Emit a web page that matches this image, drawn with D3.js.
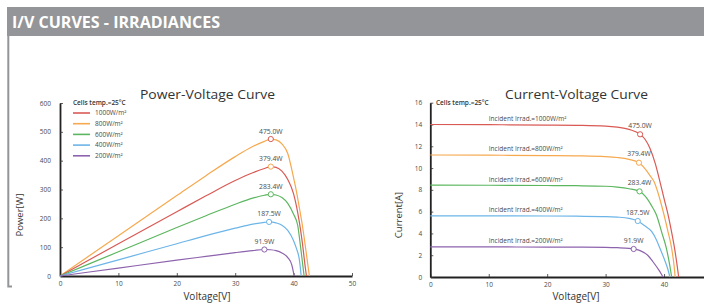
<!DOCTYPE html>
<html><head><meta charset="utf-8">
<script src="https://cdn.jsdelivr.net/npm/d3@7"></script>
<style>
html,body{margin:0;padding:0;background:#fff;}
svg{display:block;font-family:"Open Sans","Lato",sans-serif;}
</style></head>
<body>
<svg id="c" width="704" height="303"></svg>
<script>
// ---------- DATA ----------
const irradiances = ["1000W/m²","800W/m²","600W/m²","400W/m²","200W/m²"];
const seriesColors = ["#d95a55","#f6a94e","#5cb65f","#6db5e8","#8d63ad"];
// power chart draws the 1000 & 800 lines with swapped colours (as in original)
const powerLineColors = ["#f6a94e","#d95a55","#5cb65f","#6db5e8","#8d63ad"];
const mppLabels = ["475.0W","379.4W","283.4W","187.5W","91.9W"];
const powerTicksY = [0,100,200,300,400,500,600];
const currentTicksY = [0,2,4,6,8,10,12,14,16];
const voltageTicks = [0,10,20,30,40,50];

// Power-Voltage curves [V, P]
const pv1000 = [[0,0],[10,140],[20,279],[25,348],[30,414],[33,449],[35,467],[36.1,475],[37,472],[38,458],[39,425],[40,340],[40.5,292],[41,235],[41.5,176],[42,105],[42.5,30],[42.7,0]];
const pv800  = [[0,0],[10,112],[20,223],[25,278],[30,331],[33,358],[35,373],[36.1,379.4],[37,377],[38,364],[39,335],[40,285],[41,185],[41.5,115],[42,30],[42.2,0]];
const pv600  = [[0,0],[10,84],[20,168],[25,209],[30,249],[33,270],[35,280],[36.1,283.4],[37,281],[38,272],[39,252],[40,214],[40.7,176],[41.2,100],[41.5,50],[41.8,0]];
const pv400  = [[0,0],[10,56],[20,112],[25,140],[30,166],[33,180],[35,186],[35.8,187.5],[37,184],[38,176],[39,158],[40,122],[40.5,95],[41,55],[41.3,0]];
const pv200  = [[0,0],[10,27.5],[20,55],[25,68],[30,81],[33,88],[35,91.9],[36,91],[37,88],[38,80],[39,64],[39.7,38],[40.1,0]];
const pvMpp  = [[36.1,475.0],[36.1,379.4],[36.1,283.4],[35.8,187.5],[35.0,91.9]];

// Current-Voltage curves [V, I]
const iv1000 = [[0,14.0],[10,13.98],[20,13.95],[25,13.92],[30,13.85],[32,13.75],[34,13.55],[35.9,13.1],[36.8,12.6],[37.6,11.8],[38.5,10.4],[39.3,8.74],[40.0,7.2],[40.7,5.69],[41.3,4.1],[41.8,2.63],[42.2,1.2],[42.5,0]];
const iv800  = [[0,11.2],[10,11.18],[20,11.15],[25,11.12],[30,11.05],[32,10.97],[34,10.8],[35.7,10.49],[36.8,9.9],[37.6,9.3],[38.3,8.74],[39.2,7.3],[40.0,5.69],[40.7,4.1],[41.3,2.63],[41.7,1.1],[41.9,0]];
const iv600  = [[0,8.44],[10,8.42],[20,8.4],[25,8.38],[30,8.33],[32,8.25],[34,8.1],[35.8,7.86],[36.8,7.4],[37.8,6.6],[38.7,5.69],[39.6,4.1],[40.4,2.63],[40.9,1.3],[41.3,0]];
const iv400  = [[0,5.62],[10,5.61],[20,5.6],[25,5.58],[30,5.55],[32,5.5],[34,5.38],[35.5,5.14],[36.7,4.7],[37.9,4.16],[38.7,3.4],[39.3,2.63],[40.0,1.7],[40.6,0.8],[41.0,0]];
const iv200  = [[0,2.77],[10,2.76],[20,2.75],[25,2.74],[30,2.72],[32,2.69],[34,2.63],[34.8,2.57],[36,2.4],[37.2,2.0],[38.1,1.4],[38.9,0.8],[39.5,0.3],[39.8,0]];
const ivMpp  = [[35.9,13.1],[35.7,10.49],[35.8,7.86],[35.5,5.14],[34.8,2.57]];
const ivLabelCurrent = [14.0,11.2,8.44,5.62,2.77];

const pvSeries = [pv1000,pv800,pv600,pv400,pv200];
const ivSeries = [iv1000,iv800,iv600,iv400,iv200];

// ---------- DRAW ----------
const W = 704;
const svg = d3.select("#c");
const grey = "#939598";
const txt = "#4a4a4a";

// header
svg.append("rect").attr("x",7).attr("y",7).attr("width",697).attr("height",29).attr("fill",grey);
svg.append("text").attr("x",12).attr("y",27.5).attr("fill","#fff")
  .attr("font-size",15.5).attr("font-weight",700)
  .attr("textLength",208).attr("lengthAdjust","spacingAndGlyphs")
  .text("I/V CURVES - IRRADIANCES");
svg.append("path").attr("d","M8.3,36V286.5H12").attr("fill","none").attr("stroke",grey).attr("stroke-width",2);

function drawChart(opts){
  const g = svg.append("g");
  const x = d3.scaleLinear().domain([0,50]).range(opts.xr);
  const y = d3.scaleLinear().domain(opts.yd).range(opts.yr);
  const visibleTicks = voltageTicks.filter(v => x(v) <= W - 4);
  const xAxis = d3.axisBottom(x).tickValues(visibleTicks).tickSize(-3).tickSizeOuter(0).tickPadding(5.5);
  const yAxis = d3.axisLeft(y).tickValues(opts.yTicks).tickSize(-3).tickSizeOuter(0).tickPadding(opts.yPad);
  const gx = g.append("g").attr("transform",`translate(0,${opts.yr[0]})`).call(xAxis);
  const gy = g.append("g").attr("transform",`translate(${opts.xr[0]},0)`).call(yAxis);
  [gx,gy].forEach(a=>{
    a.select(".domain").attr("stroke","#222").attr("stroke-width",1.8);
    a.selectAll(".tick line").attr("stroke","#333").attr("stroke-width",0.8);
    a.selectAll(".tick text").attr("fill",txt).attr("font-size",6.5).attr("font-family","Open Sans, sans-serif");
  });
  // title
  g.append("text").attr("x",opts.titleX).attr("y",98.5).attr("text-anchor","middle")
    .attr("fill","#333").attr("font-size",12.5)
    .attr("textLength",opts.titleLen).attr("lengthAdjust","spacingAndGlyphs").text(opts.title);
  // axis labels
  g.append("text").attr("transform",`translate(${opts.yLabelX},215) rotate(-90)`)
    .attr("text-anchor","middle").attr("dy","0.35em").attr("fill","#333").attr("font-size",9.5).text(opts.yLabel);
  g.append("text").attr("x",opts.xLabelX).attr("y",299.5).attr("text-anchor","middle")
    .attr("fill","#333").attr("font-size",10).text("Voltage[V]");
  // lines
  const line = d3.line().x(d=>x(d[0])).y(d=>y(d[1])).curve(d3.curveMonotoneX);
  opts.series.forEach((s,i)=>{
    g.append("path").datum(s).attr("d",line).attr("fill","none")
      .attr("stroke",opts.lineColors[i]).attr("stroke-width",1.2);
  });
  // mpp markers & labels
  opts.mpp.forEach((m,i)=>{
    g.append("circle").attr("cx",x(m[0])).attr("cy",y(m[1])).attr("r",2.6)
      .attr("fill","#fff").attr("stroke",seriesColors[i]).attr("stroke-width",1);
    g.append("text").attr("x",x(m[0])).attr("y",y(m[1])-opts.lblOff).attr("text-anchor","middle")
      .attr("fill",txt).attr("font-size",6.8).text(mppLabels[i]);
  });
  // cells temp
  g.append("text").attr("x",opts.tempX).attr("y",105.2).attr("fill","#333").attr("font-size",6.5)
    .attr("font-weight",600).text("Cells temp.=25°C");
  return {g,x,y};
}

const pv = drawChart({xr:[60,352], yd:[0,600], yr:[276,103], yTicks:powerTicksY, yPad:9,
  title:"Power-Voltage Curve", titleX:207.5, titleLen:135, yLabel:"Power[W]", yLabelX:20, xLabelX:207,
  series:pvSeries, lineColors:powerLineColors, mpp:pvMpp, lblOff:5.5, tempX:73});

// legend
irradiances.forEach((t,i)=>{
  const yy = 113 + i*10.7;
  pv.g.append("line").attr("x1",73).attr("x2",90).attr("y1",yy).attr("y2",yy)
    .attr("stroke",seriesColors[i]).attr("stroke-width",1.6);
  pv.g.append("text").attr("x",95).attr("y",yy).attr("dy","0.35em").attr("fill",txt)
    .attr("font-size",6.5).text(t);
});

const iv = drawChart({xr:[430.3,722.5], yd:[0,16], yr:[277,102.7], yTicks:currentTicksY, yPad:8,
  title:"Current-Voltage Curve", titleX:576.5, titleLen:143, yLabel:"Current[A]", yLabelX:398.7, xLabelX:576,
  series:ivSeries, lineColors:seriesColors, mpp:ivMpp, lblOff:6.5, tempX:436});

irradiances.forEach((t,i)=>{
  iv.g.append("text").attr("x",iv.x(10)).attr("y",iv.y(ivLabelCurrent[i])-3.5).attr("fill",txt)
    .attr("font-size",6.5).text("Incident Irrad.="+t);
});
</script>
</body></html>
